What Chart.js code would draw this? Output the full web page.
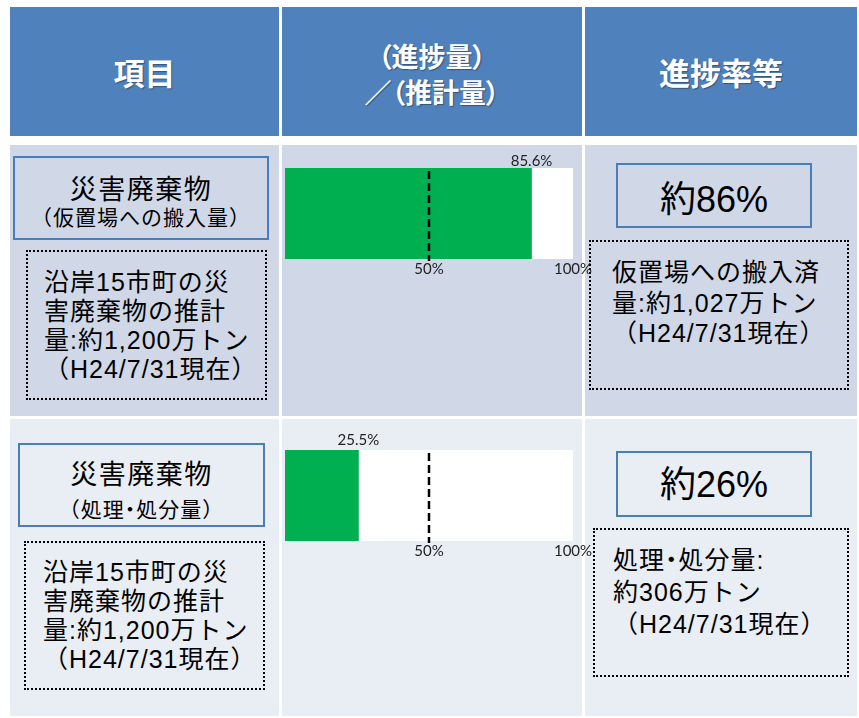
<!DOCTYPE html>
<html lang="ja">
<head>
<meta charset="utf-8">
<script src="https://cdn.jsdelivr.net/npm/chart.js@4.4.1/dist/chart.umd.min.js"></script>
<style>
  html, body { margin:0; padding:0; background:#ffffff; }
  #page { position:relative; width:859px; height:718px; overflow:hidden; font-family:"Liberation Sans", "Noto Sans CJK JP", sans-serif; }
  .cell { position:absolute; }
  .hdr { background:#4F81BD; }
  .r1 { background:#D0D8E8; }
  .r2 { background:#E9EDF4; }
  .t { position:absolute; white-space:nowrap; color:#000; }
  .h { color:#fff; font-weight:bold; text-align:center; text-shadow:1px 1px 1px rgba(0,0,0,0.35); font-family:"Noto Sans CJK JP", sans-serif; }
  .p { font-family:"Noto Sans CJK JP", sans-serif; font-feature-settings:"palt"; }
  .box { position:absolute; box-sizing:border-box; border:2px solid #4A7EBB; }
  .dot { position:absolute; box-sizing:border-box; border:2px dotted #000; }
  canvas { position:absolute; }
</style>
</head>
<body>
<div id="page">
  <!-- header row -->
  <div class="cell hdr" style="left:10px;top:7px;width:269px;height:129px;"></div>
  <div class="cell hdr" style="left:282px;top:7px;width:300px;height:129px;"></div>
  <div class="cell hdr" style="left:585px;top:7px;width:272px;height:129px;"></div>
  <div class="t h" style="left:10px;width:269px;top:54px;font-size:31px;line-height:36px;">項目</div>
  <div class="t h" style="left:282px;width:300px;top:38px;font-size:27px;line-height:36px;font-feature-settings:'palt';">（進捗量）<br>／（推計量）</div>
  <div class="t h" style="left:585px;width:272px;top:54px;font-size:31px;line-height:36px;">進捗率等</div>

  <!-- row 1 -->
  <div class="cell r1" style="left:10px;top:145px;width:269px;height:271px;"></div>
  <div class="cell r1" style="left:282px;top:145px;width:300px;height:271px;"></div>
  <div class="cell r1" style="left:585px;top:145px;width:272px;height:271px;"></div>

  <div class="box" style="left:13px;top:156px;width:256px;height:84px;"></div>
  <div class="t" style="left:13px;width:256px;text-align:center;top:175px;font-size:27px;line-height:30px;letter-spacing:1.5px;">災害廃棄物</div>
  <div class="t" style="left:13px;width:256px;text-align:center;top:206px;font-size:21px;line-height:24px;letter-spacing:1px;">（仮置場への搬入量）</div>
  <div class="dot" style="left:26px;top:250px;width:241px;height:150px;"></div>
  <div class="t" style="left:44px;top:268px;font-size:25px;line-height:29px;letter-spacing:1px;">沿岸15市町の災<br>害廃棄物の推計<br>量:約1,200万トン<br>（H24/7/31現在）</div>

  <div class="box" style="left:616px;top:163px;width:196px;height:65px;"></div>
  <div class="t" style="left:616px;width:196px;text-align:center;top:180px;font-size:36px;line-height:40px;">約86%</div>
  <div class="dot" style="left:589px;top:240px;width:260px;height:150px;"></div>
  <div class="t" style="left:612px;top:257px;font-size:25px;line-height:30.5px;letter-spacing:1px;">仮置場への搬入済<br>量:約1,027万トン<br>（H24/7/31現在）</div>

  <!-- row 2 -->
  <div class="cell r2" style="left:10px;top:419px;width:269px;height:297px;"></div>
  <div class="cell r2" style="left:282px;top:419px;width:300px;height:297px;"></div>
  <div class="cell r2" style="left:585px;top:419px;width:272px;height:297px;"></div>

  <div class="box" style="left:18px;top:443px;width:247px;height:84px;"></div>
  <div class="t" style="left:18px;width:247px;text-align:center;top:460px;font-size:27px;line-height:30px;letter-spacing:1.5px;">災害廃棄物</div>
  <div class="t" style="left:18px;width:247px;text-align:center;top:496px;font-size:21px;line-height:24px;letter-spacing:1px;">（処理<span class="p">・</span>処分量）</div>
  <div class="dot" style="left:24px;top:541px;width:241px;height:149px;"></div>
  <div class="t" style="left:43px;top:558px;font-size:25px;line-height:29px;letter-spacing:1px;">沿岸15市町の災<br>害廃棄物の推計<br>量:約1,200万トン<br>（H24/7/31現在）</div>

  <div class="box" style="left:616px;top:451px;width:196px;height:66px;"></div>
  <div class="t" style="left:616px;width:196px;text-align:center;top:465px;font-size:36px;line-height:40px;">約26%</div>
  <div class="dot" style="left:593px;top:528px;width:256px;height:149px;"></div>
  <div class="t" style="left:613px;top:542px;font-size:25px;line-height:32px;letter-spacing:1px;">処理<span class="p">・</span>処分量:<br>約306万トン<br>（H24/7/31現在）</div>

  <canvas id="c1" width="326" height="135" style="left:270px;top:145px;width:326px;height:135px;"></canvas>
  <canvas id="c2" width="326" height="140" style="left:270px;top:422px;width:326px;height:140px;"></canvas>
</div>

<script>
// ---- data ----
const categories = ['災害廃棄物（仮置場への搬入量）', '災害廃棄物（処理・処分量）'];
const progressValues = [85.6, 25.5];
const progressLabels = ['85.6%', '25.5%'];
const tickValues = [50, 100];
const referenceLine = 50;
const axisMin = 0;
const axisMax = 100;

const plotBg = {
  id: 'plotBg',
  beforeDatasetsDraw(chart) {
    const a = chart.chartArea, ctx = chart.ctx;
    ctx.save();
    ctx.fillStyle = '#ffffff';
    ctx.fillRect(a.left, a.top, a.right - a.left, a.bottom - a.top);
    ctx.restore();
  }
};

const refLine = {
  id: 'refLine',
  afterDatasetsDraw(chart) {
    const a = chart.chartArea, ctx = chart.ctx;
    const x = chart.scales.x.getPixelForValue(referenceLine);
    ctx.save();
    ctx.strokeStyle = '#000000';
    ctx.lineWidth = 2.5;
    ctx.setLineDash([8, 4]);
    ctx.beginPath();
    ctx.moveTo(x, a.top + 3);
    ctx.lineTo(x, a.bottom + 2);
    ctx.stroke();
    ctx.restore();
  }
};

const valueLabel = {
  id: 'valueLabel',
  afterDatasetsDraw(chart, args, opts) {
    const ctx = chart.ctx;
    const meta = chart.getDatasetMeta(0);
    ctx.save();
    ctx.font = '15px Lato, "Open Sans", sans-serif';
    ctx.fillStyle = '#222222';
    ctx.textAlign = 'center';
    ctx.textBaseline = 'middle';
    meta.data.forEach((bar) => {
      ctx.fillText(opts.text, bar.x, chart.chartArea.top - opts.gap);
    });
    ctx.restore();
  }
};

function makeChart(id, idx, padTop, padBottom, gap) {
  return new Chart(document.getElementById(id), {
    type: 'bar',
    data: {
      labels: [categories[idx]],
      datasets: [{
        data: [progressValues[idx]],
        backgroundColor: '#00B050',
        borderWidth: 0,
        barPercentage: 1,
        categoryPercentage: 1
      }]
    },
    options: {
      indexAxis: 'y',
      responsive: false,
      animation: false,
      devicePixelRatio: 1,
      layout: { padding: { left: 15, right: 23, top: padTop, bottom: padBottom } },
      plugins: {
        legend: { display: false },
        tooltip: { enabled: false },
        valueLabel: { text: progressLabels[idx], gap: gap }
      },
      scales: {
        y: { display: false },
        x: {
          min: axisMin, max: axisMax,
          grid: { display: false, drawTicks: false },
          border: { display: false },
          afterBuildTicks(scale) { scale.ticks = tickValues.map(v => ({ value: v })); },
          ticks: {
            padding: 1,
            autoSkip: false,
            maxRotation: 0,
            color: '#222222',
            font: { family: 'Lato, "Open Sans", sans-serif', size: 15 },
            callback: (v) => v + '%'
          }
        }
      }
    },
    plugins: [plotBg, refLine, valueLabel]
  });
}

makeChart('c1', 0, 23, 1, 7);
makeChart('c2', 1, 28, 1, 10);
</script>
</body>
</html>
